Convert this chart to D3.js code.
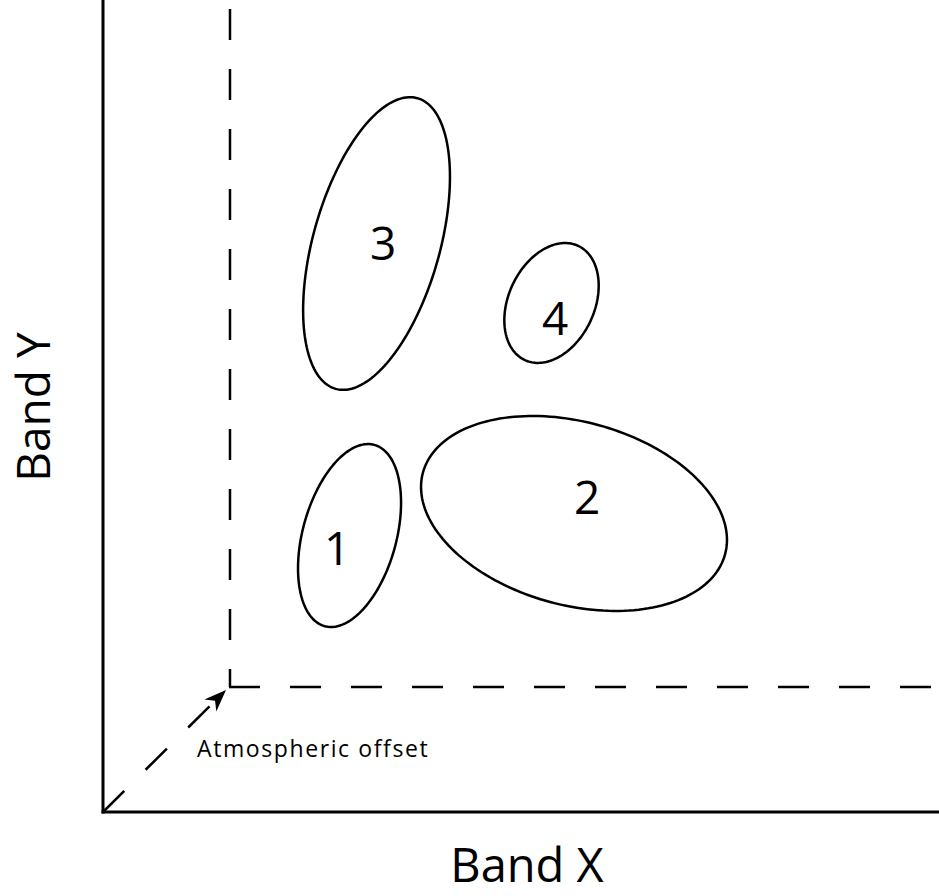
<!DOCTYPE html>
<html>
<head>
<meta charset="utf-8">
<script src="https://cdn.jsdelivr.net/npm/d3@7"></script>
<style>
  html, body { margin: 0; padding: 0; background: #fff; }
  svg { display: block; }
  text { font-family: "Open Sans", "Noto Sans", sans-serif; fill: #000; }
</style>
</head>
<body>
<svg id="chart" width="939" height="896"></svg>
<script>
// ---- data (band units) ----
const clusterLabels = ["1", "2", "3", "4"];
const centerX      = [29.49, 56.34, 32.72, 53.65];
const centerY      = [33.07, 35.71, 68.00, 60.89];
const semiMajor    = [11.24, 18.72, 18.06, 7.54];
const semiMinor    = [5.60, 10.97, 7.58, 5.14];
const majorAngle   = [74.7, -15.1, 74.3, 65];   // degrees, from +X axis
const labelX       = [28.0, 57.9, 33.5, 54.1];
const labelY       = [29.6, 35.7, 66.0, 57.0];
const offsetPoint  = [15.19, 14.95];            // atmospheric offset (X, Y)
const axisTitles   = ["Band X", "Band Y"];
const offsetLabel  = "Atmospheric offset";

const W = 939, H = 896;
const svg = d3.select("#chart");
const unit = 8.36;
const x = d3.scaleLinear().domain([0, 100]).range([103, 103 + 100 * unit]);
const y = d3.scaleLinear().domain([0, 100]).range([812, 812 - 100 * unit]);
const xMax = x.invert(W), yMax = y.invert(0);

// axes
svg.append("line").attr("x1", x(0)).attr("x2", x(0)).attr("y1", y(yMax)).attr("y2", y(0) + 1.5)
  .attr("stroke", "#000").attr("stroke-width", 3);
svg.append("line").attr("x1", x(0) - 1.5).attr("x2", x(xMax)).attr("y1", y(0)).attr("y2", y(0))
  .attr("stroke", "#000").attr("stroke-width", 3);

// dashed offset lines
svg.append("line").attr("x1", x(offsetPoint[0])).attr("x2", x(offsetPoint[0]))
  .attr("y1", y(yMax)).attr("y2", y(offsetPoint[1]))
  .attr("stroke", "#000").attr("stroke-width", 2.5)
  .attr("stroke-dasharray", "31,29").attr("stroke-dashoffset", 51);
svg.append("line").attr("x1", x(offsetPoint[0]) - 1).attr("x2", x(xMax))
  .attr("y1", y(offsetPoint[1])).attr("y2", y(offsetPoint[1]))
  .attr("stroke", "#000").attr("stroke-width", 2.5)
  .attr("stroke-dasharray", "31,30");

// dashed arrow from origin to the offset point
{
  const x0 = x(0), y0 = y(0);
  const tx = x(offsetPoint[0]) - 4, ty = y(offsetPoint[1]) + 3;
  const dx = tx - x0, dy = ty - y0, L = Math.hypot(dx, dy);
  const ux = dx / L, uy = dy / L, px = -uy, py = ux;
  const headLen = 22, headW = 8.5;
  svg.append("line").attr("x1", x0).attr("y1", y0)
    .attr("x2", tx - ux * (headLen - 4)).attr("y2", ty - uy * (headLen - 4))
    .attr("stroke", "#000").attr("stroke-width", 2.5)
    .attr("stroke-dasharray", "30,30");
  const bx = tx - ux * headLen, by = ty - uy * headLen;
  const nx = tx - ux * headLen * 0.7, ny = ty - uy * headLen * 0.7;
  svg.append("path")
    .attr("d", `M${tx},${ty} L${bx + px * headW},${by + py * headW} L${nx},${ny} L${bx - px * headW},${by - py * headW} Z`)
    .attr("fill", "#000");
}

// cluster ellipses
const lineGen = d3.line().x(d => x(d[0])).y(d => y(d[1])).curve(d3.curveLinearClosed);
clusterLabels.forEach((lab, i) => {
  const phi = majorAngle[i] * Math.PI / 180;
  const c = Math.cos(phi), s = Math.sin(phi);
  const pts = d3.range(0, 2 * Math.PI, Math.PI / 90).map(t => {
    const a = semiMajor[i] * Math.cos(t), b = semiMinor[i] * Math.sin(t);
    return [centerX[i] + a * c - b * s, centerY[i] + a * s + b * c];
  });
  svg.append("path").attr("d", lineGen(pts))
    .attr("fill", "none").attr("stroke", "#000").attr("stroke-width", 2.5);
  svg.append("text").attr("x", x(labelX[i])).attr("y", y(labelY[i]))
    .attr("text-anchor", "middle").attr("font-size", 46).text(lab);
});

// labels
svg.append("text").attr("x", x(offsetPoint[0]) - 33).attr("y", 757)
  .attr("font-size", 23).attr("letter-spacing", 1.6).text(offsetLabel);
svg.append("text").attr("x", 527).attr("y", 882)
  .attr("text-anchor", "middle").attr("font-size", 47).text(axisTitles[0]);
svg.append("text").attr("transform", "translate(50,407) rotate(-90)")
  .attr("text-anchor", "middle").attr("font-size", 46).text(axisTitles[1]);
</script>
</body>
</html>
